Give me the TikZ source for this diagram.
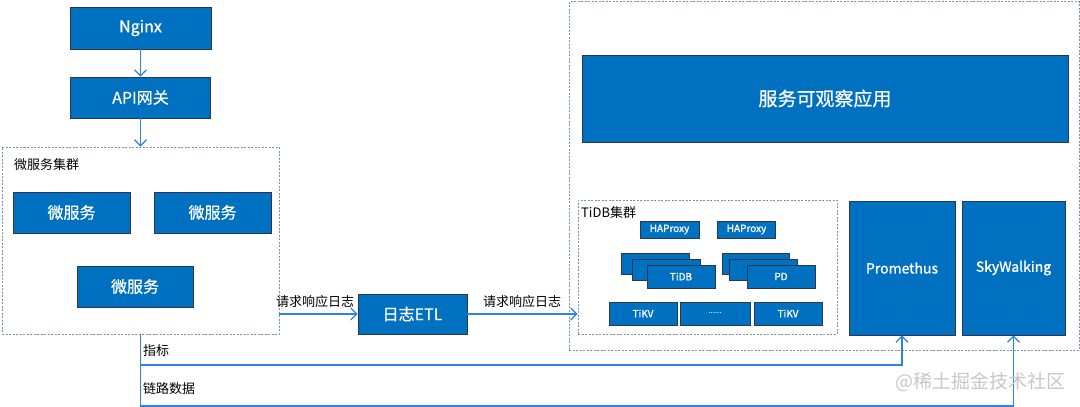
\documentclass[tikz,border=0pt]{standalone}
\usepackage{fontspec}
\setmainfont{Noto Sans CJK SC}
\newfontfamily\semib[FakeBold=1.2]{Noto Sans CJK SC}
\newfontfamily\medf[FakeBold=0.6]{Noto Sans CJK SC}
\usetikzlibrary{arrows.meta}
\definecolor{boxblue}{RGB}{0,112,192}
\definecolor{boxedge}{RGB}{45,55,75}
\definecolor{arrowblue}{RGB}{47,128,237}
\definecolor{dashgray}{RGB}{130,145,160}
\definecolor{wmgray}{RGB}{200,200,200}
\begin{document}
\begin{tikzpicture}[x=1pt,y=-1pt,
  bluebox/.style={draw=boxedge, line width=0.8pt, fill=boxblue, text=white, inner sep=0pt, font=\medf\fontsize{16}{18}\selectfont},
  smallbox/.style={bluebox, font=\semib\fontsize{10}{12}\selectfont},
  tallbox/.style={bluebox, font=\semib\fontsize{14}{16}\selectfont},
  group/.style={draw=dashgray, dash pattern=on 2pt off 1.5pt, line width=0.9pt, inner sep=0pt},
  flow/.style={draw=arrowblue, line width=1.2pt, -{Straight Barb[length=6pt,width=12pt,line width=1.2pt]}},
  lab/.style={font=\fontsize{13}{15}\selectfont, inner sep=0pt, text=black}]
\path[use as bounding box, fill=white] (0,0) rectangle (1080,407);

% left column
\node[bluebox, font=\semib\fontsize{16}{18}\selectfont, minimum width=141pt, minimum height=42pt] (nginx) at (140.5,28) {Nginx};
\node[bluebox, minimum width=140pt, minimum height=41pt] (api) at (140.5,97.5) {API网关};
\node[group, minimum width=277pt, minimum height=187pt] (mscl) at (140.5,240.5) {};
\node[lab, anchor=west] (msclab) at (14,165) {微服务集群};
\node[bluebox, minimum width=117pt, minimum height=41pt] (ms1) at (71.5,212.5) {微服务};
\node[bluebox, minimum width=117pt, minimum height=41pt] (ms2) at (212.5,212.5) {微服务};
\node[bluebox, minimum width=116pt, minimum height=41pt] (ms3) at (135,286.5) {微服务};

% ETL
\node[bluebox, minimum width=109pt, minimum height=40pt] (etl) at (412.5,314) {日志ETL};

% right group
\node[group, minimum width=510pt, minimum height=348.5pt] (outer) at (824,175.75) {};
\node[bluebox, font=\medf\fontsize{19}{21}\selectfont, minimum width=486pt, minimum height=87pt] (obs) at (825,98.5) {服务可观察应用};
\node[group, minimum width=259pt, minimum height=134pt] (tidbcl) at (707.5,267) {};
\node[lab, anchor=west] (tidblab) at (581,213) {TiDB集群};
\node[smallbox, minimum width=59pt, minimum height=17pt] (hap1) at (669.5,229.5) {HAProxy};
\node[smallbox, minimum width=58pt, minimum height=17pt] (hap2) at (746.5,229.5) {HAProxy};
\node[smallbox, minimum width=68pt, minimum height=21pt] (tidbA) at (655,263.5) {};
\node[smallbox, minimum width=68pt, minimum height=21pt] (tidbB) at (666,269.5) {};
\node[smallbox, minimum width=68pt, minimum height=23pt] (tidbC) at (681,276.5) {TiDB};
\node[smallbox, minimum width=67pt, minimum height=21pt] (pdA) at (755.5,263.5) {};
\node[smallbox, minimum width=68pt, minimum height=21pt] (pdB) at (763,269.5) {};
\node[smallbox, minimum width=68pt, minimum height=23pt] (pdC) at (781,276.5) {PD};
\node[smallbox, minimum width=68pt, minimum height=23pt] (tikv1) at (643,313.5) {TiKV};
\node[smallbox, font=\fontsize{8}{10}\selectfont, minimum width=70pt, minimum height=23pt] (tikvdots) at (715,313.5) {......};
\node[smallbox, minimum width=68pt, minimum height=23pt] (tikv2) at (788,313.5) {TiKV};
\node[tallbox, minimum width=106pt, minimum height=134pt] (prom) at (902,268) {Promethus};
\node[tallbox, minimum width=103pt, minimum height=134pt] (sky) at (1013.5,268) {SkyWalking};

% connectors
\draw[flow] (nginx.south) -- (nginx.south |- api.north);
\draw[flow] (api.south) -- (api.south |- mscl.north);
\draw[flow] (mscl.east |- etl.west) -- (etl.west);
\node[lab] (req1) at (315,302) {请求响应日志};
\draw[flow] (etl.east) -- (etl.east -| tidbcl.west);
\node[lab] (req2) at (522,302) {请求响应日志};

\coordinate (trunkend) at (140.5,406);
\coordinate (metricsy) at (140.5,365);
\draw[flow] (mscl.south) -- (trunkend) -| (sky.south);
\draw[flow] (metricsy) -| (prom.south);
\node[lab, anchor=west] (metlab) at (143,351) {指标};
\node[lab, anchor=west] (tracelab) at (143,389) {链路数据};

\node[font=\fontsize{19}{21}\selectfont, text=wmgray, inner sep=0pt, anchor=east] (wm) at (1066,382) {@稀土掘金技术社区};
\end{tikzpicture}
\end{document}
